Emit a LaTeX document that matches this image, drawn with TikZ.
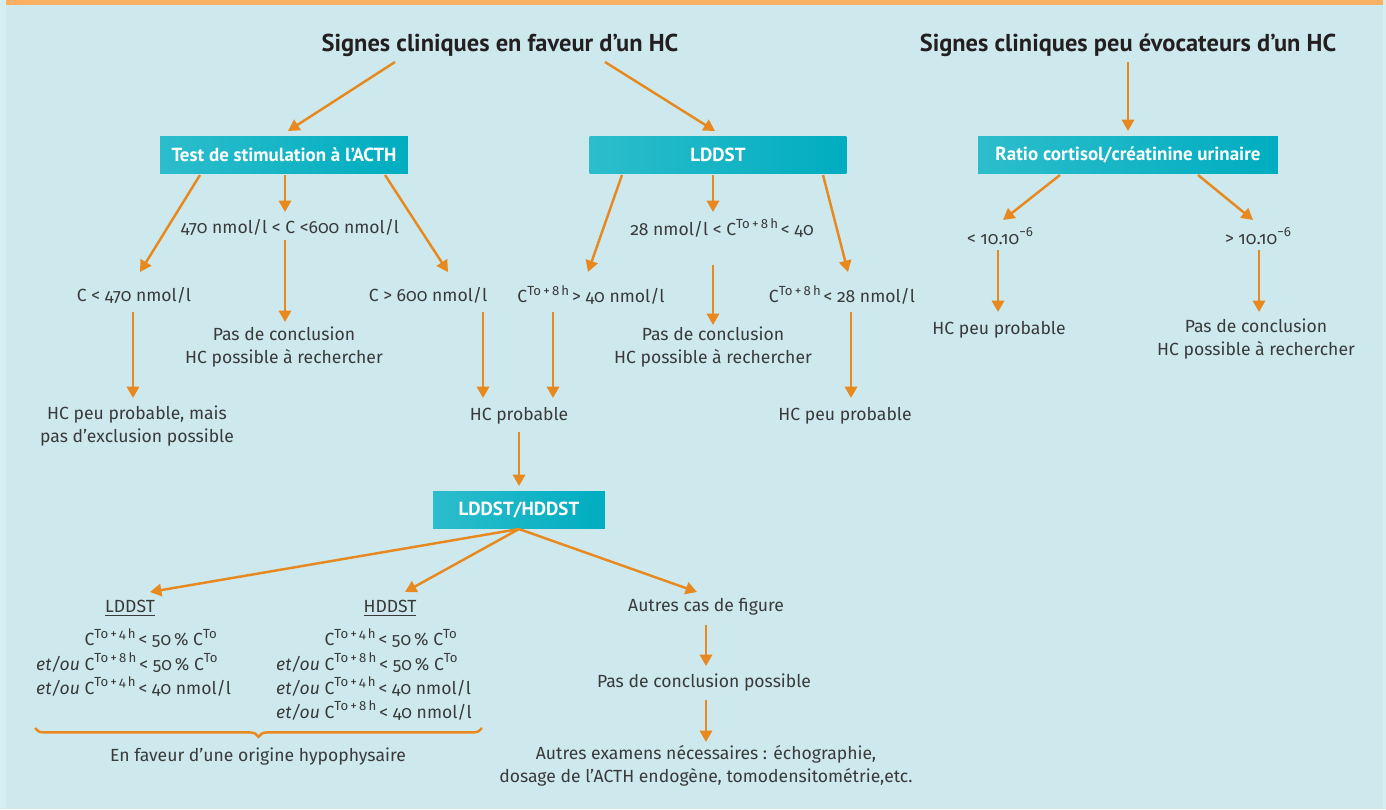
\documentclass[tikz,border=0pt]{standalone}
\usepackage{fontspec}
\setmainfont{Fira Sans}[Numbers=OldStyle]
\newfontfamily\titlefont{PT Sans}
\usetikzlibrary{arrows.meta,calc,decorations.pathreplacing}
\definecolor{fond}{HTML}{CDE9ED}
\definecolor{bord}{HTML}{D5EEF2}
\definecolor{bandeau}{HTML}{FBAF61}
\definecolor{fleche}{HTML}{E8891F}
\definecolor{sarcelle}{HTML}{00ADC0}
\definecolor{sarcelleclair}{HTML}{2CBDCC}
\definecolor{texte}{HTML}{3A3A3A}
\definecolor{titre}{HTML}{231F20}
\newcommand{\exposant}[1]{\raisebox{0.85ex}{\fontsize{7.5}{8}\selectfont #1}}
\newcommand{\Cto}[1]{C\exposant{To\,+\,#1\,h}\,}
\newcommand{\Co}{C\exposant{To}}
\renewcommand{\arraystretch}{0.93}

\begin{document}
\begin{tikzpicture}[x=0.02cm,y=-0.02cm,line width=1.4pt,>={Triangle[length=6.5pt,width=7pt]},
  arr/.style={->,draw=fleche},
  titl/.style={text=titre,font=\titlefont\bfseries\fontsize{13.9}{16}\selectfont},
  box/.style={left color=sarcelleclair,right color=sarcelle,text=white,minimum height=0.74cm,font=\titlefont\bfseries\fontsize{10.8}{12}\selectfont},
  lab/.style={text=texte,align=center,font=\fontsize{10}{13.2}\selectfont}]
\useasboundingbox (0,0) rectangle (1386,809);
\fill[bord] (0,0) rectangle (1386,809);
\fill[fond] (6,0) rectangle (1383,809);
\fill[bandeau] (6,0) rectangle (1383,5);
% titres et boites
\node[titl] (t1) at (500,45) {Signes cliniques en faveur d’un HC};
\node[titl] (t2) at (1128,45) {Signes cliniques peu évocateurs d’un HC};
\node[box,minimum width=4.96cm] (b1) at (284,155) {Test de stimulation à l’ACTH};
\node[box,minimum width=5.14cm] (b2) at (718,155) {LDDST};
\node[box,minimum width=6cm] (b3) at (1128,155) {Ratio cortisol/créatinine urinaire};
\node[box,minimum width=3.44cm] (b4) at (519,510) {LDDST/HDDST};
% test ACTH
\node[lab] (c1) at (134,295) {C < 470 nmol/l};
\node[lab] (c2) at (290,227) {470 nmol/l < C <600 nmol/l};
\node[lab] (c3) at (428,295) {C > 600 nmol/l};
\node[lab] (r1) at (137,426) {HC peu probable, mais\\pas d’exclusion possible};
\node[lab] (r2) at (284,347) {Pas de conclusion\\HC possible à rechercher};
\node[lab] (hcp) at (519,416) {HC probable};
% LDDST
\node[lab] (d1) at (591,295) {\Cto{8}> 40 nmol/l};
\node[lab] (d2) at (722,228) {28 nmol/l < \Cto{8}< 40};
\node[lab] (d3) at (842,295) {\Cto{8}< 28 nmol/l};
\node[lab] (r3) at (713,347) {Pas de conclusion\\HC possible à rechercher};
\node[lab] (r4) at (845,416) {HC peu probable};
% ratio
\node[lab] (e1) at (1000,236) {< 10.10\exposant{−6}};
\node[lab] (e2) at (1258,236) {> 10.10\exposant{−6}};
\node[lab] (r5) at (999,330) {HC peu probable};
\node[lab] (r6) at (1256,339) {Pas de conclusion\\HC possible à rechercher};
% LDDST/HDDST
\node[lab] (l1) at (130,608) {\underline{LDDST}};
\node[lab] (h1) at (390,608) {\underline{HDDST}};
\node[lab] (a1) at (706,607) {Autres cas de figure};
\node[lab,anchor=north west,inner sep=0pt] (l2) at (35,627) {\begin{tabular}{@{}r@{ }l@{}}
 & \Cto{4}< 50\,\% \Co\\ \textit{et/ou} & \Cto{8}< 50\,\% \Co\\ \textit{et/ou} & \Cto{4}< 40 nmol/l\end{tabular}};
\node[lab,anchor=north west,inner sep=0pt] (h2) at (275,627) {\begin{tabular}{@{}r@{ }l@{}}
 & \Cto{4}< 50\,\% \Co\\ \textit{et/ou} & \Cto{8}< 50\,\% \Co\\ \textit{et/ou} & \Cto{4}< 40 nmol/l\\ \textit{et/ou} & \Cto{8}< 40 nmol/l\end{tabular}};
\draw[fleche,decorate,decoration={brace,mirror,amplitude=5pt}] (35,728) -- (482,728);
\node[lab] (o1) at (258,757) {En faveur d’une origine hypophysaire};
\node[lab] (a2) at (704,683) {Pas de conclusion possible};
\node[lab] (a3) at (706,766) {Autres examens nécessaires : échographie,\\dosage de l’ACTH endogène, tomodensitométrie,etc.};
% fleches
\foreach \a/\ax/\ay/\b/\bx/\by in {t1/-105/17/b1/4/-24, t1/105/17/b2/-3/-24, t2/0/17/b3/0/-24,
  b1/-84/20/c1/6/-23, b1/1/20/c2/-5/-15, b1/101/20/c3/20/-23,
  c1/-1/17/r1/-4/-28, c2/-5/13/r2/1/-25, c3/55/17/hcp/-36/-18,
  b2/-96/20/d1/-3/-23, b2/-5/20/d2/-9/-16, b2/105/20/d3/6/-23,
  d1/-38/17/hcp/34/-18, d2/-9/37/r3/0/-22, d3/9/17/r4/6/-18,
  hcp/0/16/b4/0/-24, b4/0/19/l1/20/-16, b4/0/19/h1/15/-16, b4/0/19/a1/-9/-15,
  a1/0/18/a2/2/-17, a2/2/17/a3/0/-24,
  b3/-68/20/e1/3/-16, b3/70/20/e2/-5/-16, e1/-2/14/r5/-1/-18, e2/1/14/r6/3/-27}
  \draw[arr] ($(\a)+(\ax,\ay)$) -- ($(\b)+(\bx,\by)$);
\end{tikzpicture}
\end{document}
